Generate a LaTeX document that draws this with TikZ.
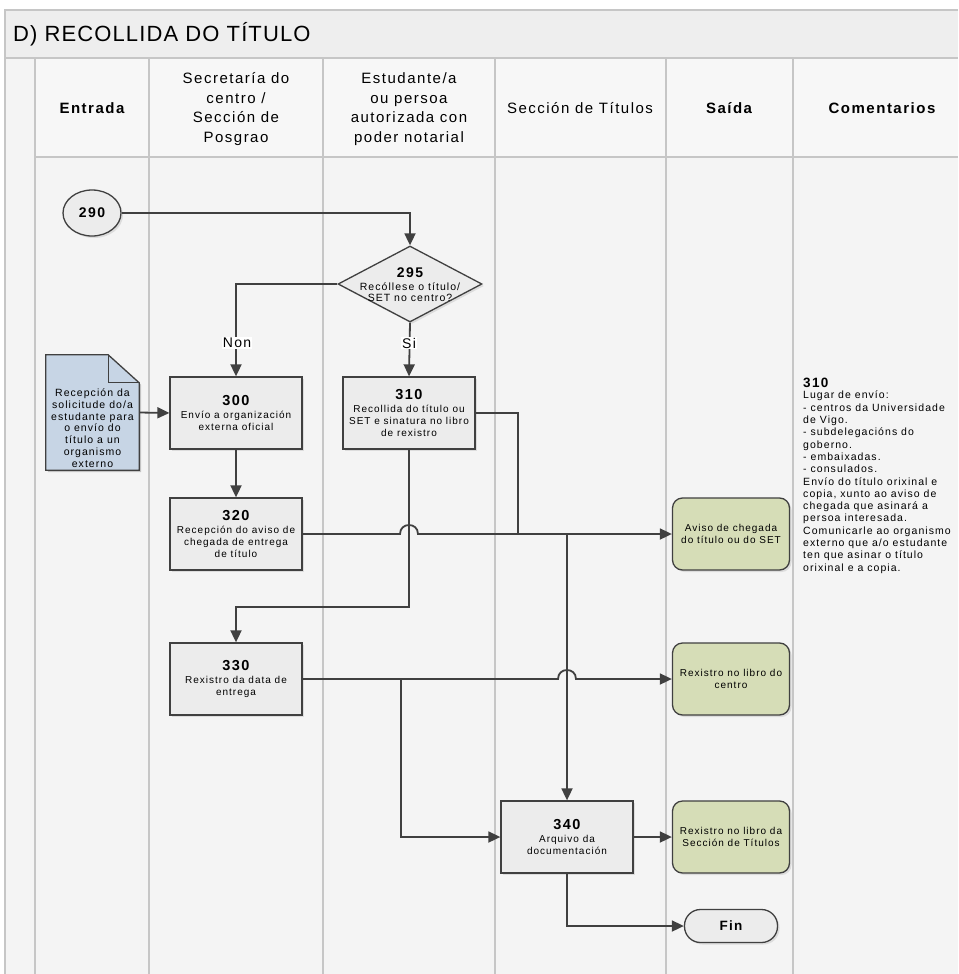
\documentclass[tikz,border=0pt]{standalone}
\usepackage{fontspec}
\setmainfont{Liberation Sans}
\newfontfamily\lsf[LetterSpace=10]{Liberation Sans}
\newfontfamily\tsf[LetterSpace=5]{Liberation Sans}
\usetikzlibrary{shapes.geometric,arrows.meta,shadows,calc}
\definecolor{edge}{HTML}{404040}
\definecolor{lanec}{HTML}{C6C6C6}
\definecolor{bodyf}{HTML}{F4F4F4}
\definecolor{titlef}{HTML}{EEEEEE}
\definecolor{hdrf}{HTML}{F7F7F7}
\definecolor{boxf}{HTML}{ECECEC}
\definecolor{outf}{HTML}{D6DDB7}
\definecolor{docf}{HTML}{C7D5E5}
\begin{document}
\begin{tikzpicture}[x=1pt,y=-1pt,
  lanel/.style={draw=lanec,line width=1.5pt},
  flow/.style={draw=edge,line width=1.8pt,-{Triangle[length=12pt,width=11pt]}},
  plainline/.style={draw=edge,line width=1.8pt},
  hdr/.style={align=center,inner sep=0pt,font=\lsf\fontsize{15}{19.5}\selectfont},
  hdrb/.style={align=center,inner sep=0pt,font=\lsf\bfseries\fontsize{15}{19.5}\selectfont},
  shadowed/.style={drop shadow={opacity=0.2,shadow xshift=2pt,shadow yshift=-2pt}},
  proc/.style={rectangle,draw=edge,line width=1.3pt,fill=boxf,minimum width=132pt,minimum height=72pt,inner sep=0pt,align=center,shadowed,font=\lsf\fontsize{10}{12}\selectfont},
  outbox/.style={rectangle,rounded corners=10pt,draw=edge,line width=1.3pt,fill=outf,minimum width=117pt,minimum height=72pt,inner sep=0pt,align=center,shadowed,font=\lsf\fontsize{10}{12}\selectfont},
  lbl/.style={fill=white,inner sep=1pt,font=\lsf\fontsize{14}{16}\selectfont},
]
\useasboundingbox (0,0) rectangle (958,974);
% backgrounds
\fill[white] (0,0) rectangle (958,974);
\fill[bodyf] (5,10) rectangle (958,974);
\fill[titlef] (5,10) rectangle (958,58);
\fill[hdrf] (35,58) rectangle (958,157);
% frame and lanes
\draw[lanel] (958,10) -- (5,10) -- (5,974);
\draw[lanel] (5,58) -- (958,58);
\draw[lanel] (35,157) -- (958,157);
\foreach \x in {35,149,323,495,666,793} \draw[lanel] (\x,58) -- (\x,974);

% title and headers
\node[anchor=west,inner sep=0pt,font=\tsf\fontsize{22}{26}\selectfont] (title) at (13,34) {D) RECOLLIDA DO TÍTULO};
\node[hdrb] (hEnt) at (92,108) {Entrada};
\node[hdr] (hSec) at (236,109) {Secretaría do\\centro /\\Sección de\\Posgrao};
\node[hdr] (hEst) at (409,109) {Estudante/a\\ou persoa\\autorizada con\\poder notarial};
\node[hdr] (hTit) at (580,108) {Sección de Títulos};
\node[hdrb] (hSai) at (729,108) {Saída};
\node[hdrb] (hCom) at (882,108) {Comentarios};

% start
\node[ellipse,draw=edge,line width=1.3pt,fill=boxf,minimum width=58pt,minimum height=46pt,inner sep=0pt,shadowed,font=\lsf\bfseries\fontsize{14}{16}\selectfont] (n290) at (92,213) {290};

% decision
\node[diamond,draw=edge,line width=1.3pt,fill=boxf,minimum width=144pt,minimum height=76pt,inner sep=0pt,shadowed] (n295) at (410,284) {};
\node[align=center,inner sep=0pt,font=\lsf\fontsize{10.5}{11.5}\selectfont] (n295t) at (410,285) {{\bfseries\fontsize{14}{16}\selectfont 295}\\[1pt]Recóllese o título/\\SET no centro?};

% document
\node[minimum width=93pt,minimum height=115pt,inner sep=0pt] (doc) at (92.5,412.5) {};
\fill[black,opacity=0.2] ($(doc.north west)+(2,2)$) -- ($(doc.north east)+(-29,2)$) -- ($(doc.north east)+(2,30)$) -- ($(doc.south east)+(2,2)$) -- ($(doc.south west)+(2,2)$) -- cycle;
\filldraw[fill=docf,draw=edge,line width=1.3pt] (doc.north west) -- ($(doc.north east)+(-31,0)$) -- ($(doc.north east)+(0,28)$) -- (doc.south east) -- (doc.south west) -- cycle;
\draw[edge,line width=1.3pt] ($(doc.north east)+(-31,0)$) -- ($(doc.north east)+(-31,28)$) -- ($(doc.north east)+(0,28)$);
\node[align=center,inner sep=0pt,font=\lsf\fontsize{10.5}{11.8}\selectfont] (doct) at (92.5,428) {Recepción da\\solicitude do/a\\estudante para\\o envío do\\título a un\\organismo\\externo};

% processes
\node[proc] (n300) at (236,413) {{\bfseries\fontsize{14.5}{16}\selectfont 300}\\[1pt]Envío a organización\\externa oficial};
\node[proc] (n310) at (409,413) {{\bfseries\fontsize{14.5}{16}\selectfont 310}\\[1pt]Recollida do título ou\\SET e sinatura no libro\\de rexistro};
\node[proc] (n320) at (236,534) {{\bfseries\fontsize{14.5}{16}\selectfont 320}\\[1pt]Recepción do aviso de\\chegada de entrega\\de título};
\node[proc] (n330) at (236,679) {{\bfseries\fontsize{14.5}{16}\selectfont 330}\\[1pt]Rexistro da data de\\entrega};
\node[proc] (n340) at (567,837) {{\bfseries\fontsize{14.5}{16}\selectfont 340}\\[1pt]Arquivo da\\documentación};

% outputs
\node[outbox] (aviso) at (731,534) {Aviso de chegada\\do título ou do SET};
\node[outbox] (rexc) at (731,679) {Rexistro no libro do\\centro};
\node[outbox] (rexs) at (731,837) {Rexistro no libro da\\Sección de Títulos};
\node[rectangle,rounded corners=16pt,draw=edge,line width=1.3pt,fill=boxf,minimum width=93pt,minimum height=33pt,inner sep=0pt,shadowed,font=\lsf\bfseries\fontsize{13.5}{15}\selectfont] (fin) at (731,926) {Fin};

% comments
\node[anchor=north west,align=left,inner sep=0pt,font=\lsf\fontsize{10.5}{12.3}\selectfont] (com) at (803,378) {{\bfseries\fontsize{13.5}{14}\selectfont 310}\\[-1pt]Lugar de envío:\\- centros da Universidade\\de Vigo.\\- subdelegacións do\\goberno.\\- embaixadas.\\- consulados.\\Envío do título orixinal e\\copia, xunto ao aviso de\\chegada que asinará a\\persoa interesada.\\Comunicarle ao organismo\\externo que a/o estudante\\ten que asinar o título\\orixinal e a copia.};

% junction coordinates
\coordinate (jA) at (518,534);
\coordinate (jB) at (567,534);
\coordinate (jC) at (401,679);
\coordinate (b310) at (409,607);
\coordinate (hopA) at (409,534);
\coordinate (hopB) at (567,679);

% connectors
\draw[flow] (n290.east) -| (n295.north);
\draw[flow] (n295.west) -| (n300.north);
\draw[flow] (n295.south) -- (n310.north);
\node[lbl] (lnon) at (237,343) {Non};
\node[lbl] (lsi) at (409,343) {Si};
\draw[flow] (doc.east) -- (n300.west);
\draw[flow] (n300.south) -- (n320.north);
\draw[plainline] (n310.east) -| (jA);
\draw[flow] (n320.east) -- ($(hopA)+(-9,0)$) .. controls ($(hopA)+(-9,-12)$) and ($(hopA)+(9,-12)$) .. ($(hopA)+(9,0)$) -- (aviso.west);
\draw[flow] (n310.south) -- (b310) -| (n330.north);
\draw[flow] (jB) -- (n340.north);
\draw[flow] (n330.east) -- ($(hopB)+(-9,0)$) .. controls ($(hopB)+(-9,-12)$) and ($(hopB)+(9,-12)$) .. ($(hopB)+(9,0)$) -- (rexc.west);
\draw[flow] (jC) |- (n340.west);
\draw[flow] (n340.east) -- (rexs.west);
\draw[flow] (n340.south) |- (fin.west);
\end{tikzpicture}
\end{document}
